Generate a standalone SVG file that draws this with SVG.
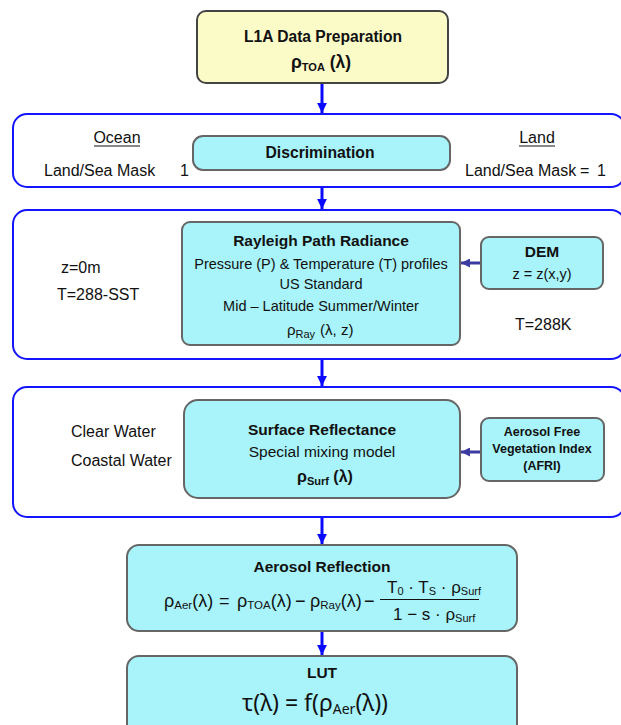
<svg xmlns="http://www.w3.org/2000/svg" width="621" height="725" viewBox="0 0 621 725">
<defs>
<style>
.t{font-family:"Liberation Sans",Arial,sans-serif;font-size:14.5px;fill:#111}
.s{font-family:"Liberation Sans",Arial,sans-serif;font-size:16px;fill:#111}
.b{font-family:"Liberation Sans",Arial,sans-serif;font-weight:bold;font-size:15.5px;fill:#111}
.sm{font-family:"Liberation Sans",Arial,sans-serif;font-weight:bold;font-size:12.5px;fill:#111}
.m{font-family:"Liberation Sans",Arial,sans-serif;font-size:18px;fill:#111}
.c{text-anchor:middle}
.sec{fill:#fff;stroke:#1414ff;stroke-width:2}
.box{fill:#a8f4fa;stroke:#666;stroke-width:2}
.blue{stroke:#0a0aff;stroke-width:3;fill:none}
.dark{stroke:#3a3aa0;stroke-width:3;fill:none}
</style>
<marker id="ab" viewBox="0 0 10 10" refX="10" refY="5" markerWidth="3.3" markerHeight="3.3" orient="auto" markerUnits="strokeWidth">
<path d="M0,0 L10,5 L0,10 Z" fill="#0a0aff"/>
</marker>
<marker id="ad" viewBox="0 0 10 10" refX="10" refY="5" markerWidth="3" markerHeight="3" orient="auto" markerUnits="strokeWidth">
<path d="M0,0 L10,5 L0,10 Z" fill="#3a3aa0"/>
</marker>
</defs>
<rect width="621" height="725" fill="#fff"/>

<g id="sec-discrimination">
<rect class="sec" x="13" y="114" width="612" height="73" rx="14"/>
<text class="s c" x="117" y="143">Ocean</text>
<line x1="94" y1="146" x2="140" y2="146" stroke="#111" stroke-width="1"/>
<text class="s" x="44" y="176">Land/Sea Mask</text>
<text class="s" x="180" y="176">1</text>
<text class="s c" x="537" y="143">Land</text>
<line x1="519" y1="146" x2="555" y2="146" stroke="#111" stroke-width="1"/>
<text class="s" x="465" y="176">Land/Sea Mask</text>
<text class="s" x="580" y="176">=</text>
<text class="s" x="597" y="176">1</text>
</g>

<g id="sec-rayleigh">
<rect class="sec" x="13" y="210" width="612" height="149" rx="14"/>
<text class="s" x="61" y="273">z=0m</text>
<text class="s" x="57" y="300">T=288-SST</text>
<text class="s" x="515" y="330">T=288K</text>
</g>

<g id="sec-surface">
<rect class="sec" x="13" y="387" width="612" height="130" rx="14"/>
<text class="s" x="71" y="437">Clear Water</text>
<text class="s" x="71" y="466">Coastal Water</text>
</g>

<g id="l1a">
<rect x="197" y="11" width="251" height="72" rx="9" fill="#fbfbc8" stroke="#444" stroke-width="2"/>
<text class="b c" x="323" y="42" style="font-size:15.6px">L1A Data Preparation</text>
<text class="b" x="291" y="68" style="font-size:17.5px">ρ<tspan font-size="11" dy="3">TOA</tspan><tspan dy="-3"> (λ)</tspan></text>
</g>

<g id="discrimination">
<rect class="box" x="193" y="136" width="257" height="34" rx="10"/>
<text class="b c" x="320" y="158" style="font-size:15.7px">Discrimination</text>
</g>

<g id="rayleigh">
<rect class="box" x="182" y="222" width="278" height="123" rx="8"/>
<text class="b c" x="321" y="246">Rayleigh Path Radiance</text>
<text class="t c" x="321" y="269">Pressure (P) &amp; Temperature (T) profiles</text>
<text class="t c" x="321" y="289">US Standard</text>
<text class="t c" x="321" y="311">Mid – Latitude Summer/Winter</text>
<text class="t" x="287" y="335" style="font-size:15px">ρ<tspan font-size="11" dy="3">Ray</tspan><tspan dy="-3" dx="5">(λ, z)</tspan></text>
</g>

<g id="dem">
<rect class="box" x="481" y="237" width="122" height="52" rx="8"/>
<text class="b c" x="542" y="257">DEM</text>
<text class="t c" x="542" y="279">z = z(x,y)</text>
</g>

<g id="surface">
<rect class="box" x="184" y="400" width="276" height="98" rx="14"/>
<text class="b c" x="322" y="435">Surface Reflectance</text>
<text class="t c" x="322" y="457" style="font-size:15.5px">Special mixing model</text>
<text class="b" x="297" y="482" style="font-size:16px">ρ<tspan font-size="11" dy="3">Surf</tspan><tspan dy="-3"> (λ)</tspan></text>
</g>

<g id="afri">
<rect class="box" x="481" y="418" width="123" height="63" rx="8"/>
<text class="sm c" x="542" y="436">Aerosol Free</text>
<text class="sm c" x="542" y="453">Vegetation Index</text>
<text class="sm c" x="542" y="470">(AFRI)</text>
</g>

<g id="aerosol">
<rect class="box" x="127" y="545" width="390" height="86" rx="12"/>
<text class="b c" x="322" y="572">Aerosol Reflection</text>
<text class="m" x="164" y="607">ρ<tspan font-size="11.5" dy="2">Aer</tspan><tspan dy="-2">(λ)</tspan></text>
<text class="m" x="219" y="607">=</text>
<text class="m" x="237" y="607">ρ<tspan font-size="11.5" dy="2">TOA</tspan><tspan dy="-2">(λ)</tspan></text>
<text class="m" x="295" y="607">−</text>
<text class="m" x="310" y="607">ρ<tspan font-size="11.5" dy="2">Ray</tspan><tspan dy="-2">(λ)</tspan></text>
<text class="m" x="364" y="607">−</text>
<line x1="380" y1="599.5" x2="479" y2="599.5" stroke="#111" stroke-width="1"/>
<text class="m" x="387" y="593" style="font-size:17px">T<tspan font-size="11" dy="2">0</tspan><tspan dy="-2"> · T</tspan><tspan font-size="11" dy="2">S</tspan><tspan dy="-2"> · ρ</tspan><tspan font-size="11" dy="2">Surf</tspan></text>
<text class="m" x="393" y="620" style="font-size:17px">1 − s · ρ<tspan font-size="11" dy="2">Surf</tspan></text>
</g>

<g id="lut">
<rect class="box" x="127" y="656" width="390" height="80" rx="12"/>
<text class="b c" x="322" y="678">LUT</text>
<text x="242" y="711" style="font-family:'Noto Sans','DejaVu Sans',sans-serif;font-size:23px;fill:#111">τ(λ) = f(ρ<tspan font-size="14" dy="3">Aer</tspan><tspan dy="-3">(λ))</tspan></text>
</g>

<g id="connectors">
<line class="blue" x1="322" y1="84" x2="322" y2="113" marker-end="url(#ab)"/>
<line class="blue" x1="322" y1="188" x2="322" y2="209" marker-end="url(#ab)"/>
<line class="blue" x1="322" y1="360" x2="322" y2="386" marker-end="url(#ab)"/>
<line class="blue" x1="322" y1="518" x2="322" y2="544" marker-end="url(#ab)"/>
<line class="blue" x1="322" y1="632" x2="322" y2="655" marker-end="url(#ab)"/>
<line class="dark" x1="480" y1="263" x2="461" y2="263" marker-end="url(#ad)"/>
<line class="dark" x1="480" y1="452" x2="461" y2="452" marker-end="url(#ad)"/>
</g>
</svg>
